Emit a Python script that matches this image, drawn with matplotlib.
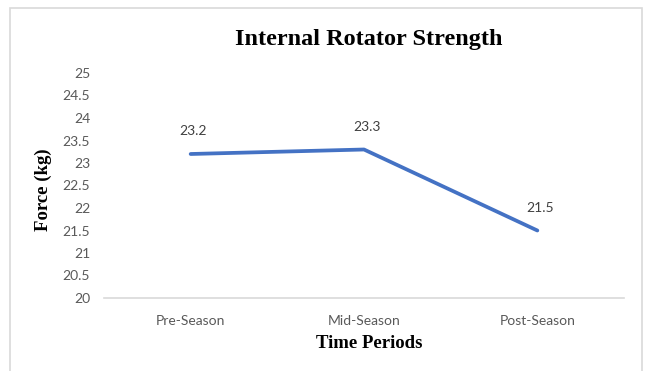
import matplotlib.pyplot as plt
from matplotlib.patches import Rectangle

periods = ['Pre-Season', 'Mid-Season', 'Post-Season']
force = [23.2, 23.3, 21.5]
y_ticks = [20, 20.5, 21, 21.5, 22, 22.5, 23, 23.5, 24, 24.5, 25]

W, H = 646, 371
fig = plt.figure(figsize=(W / 100, H / 100), dpi=100)

# light outer frame like the Excel chart area
fig.patches.append(Rectangle((10 / W, -0.05), 632 / W, 1.05 - 8 / H,
                             transform=fig.transFigure, fill=False,
                             edgecolor='#d9d9d9', linewidth=1.2))

ax = fig.add_axes([104 / W, (H - 298) / H, 520 / W, 225 / H])
x = list(range(len(periods)))
ax.plot(x, force, color='#4472C4', linewidth=2.7, solid_capstyle='round')

for xi, v in zip(x, force):
    ax.annotate(f'{v}', (xi, v), xytext=(2, 12), textcoords='offset points',
                ha='center', va='bottom', fontsize=10, color='#404040',
                family='Lato')

ax.set_xlim(-0.5, 2.5)
ax.set_ylim(20, 25)
ax.set_yticks(y_ticks)
ax.set_yticklabels([f'{t:g}' for t in y_ticks])
ax.set_xticks(x)
ax.set_xticklabels(periods)

for lab in ax.get_xticklabels() + ax.get_yticklabels():
    lab.set_family('Lato')
    lab.set_fontsize(10)
    lab.set_color('#595959')

ax.tick_params(axis='y', length=0, pad=10)
ax.tick_params(axis='x', length=0, pad=12)
for s in ['top', 'right', 'left']:
    ax.spines[s].set_visible(False)
ax.spines['bottom'].set_color('#d9d9d9')
ax.spines['bottom'].set_linewidth(1.2)

fig.text(369 / W, 1 - 40 / H, 'Internal Rotator Strength', ha='center', va='center',
         fontsize=17.5, fontweight='bold', family='Liberation Serif')
fig.text(369 / W, 1 - 343 / H, 'Time Periods', ha='center', va='center',
         fontsize=13.5, fontweight='bold', family='Liberation Serif')
fig.text(43 / W, 1 - 190 / H, 'Force (kg)', ha='center', va='center', rotation=90,
         fontsize=13.5, fontweight='bold', family='Liberation Serif')

fig.savefig('out.png', dpi=100)
